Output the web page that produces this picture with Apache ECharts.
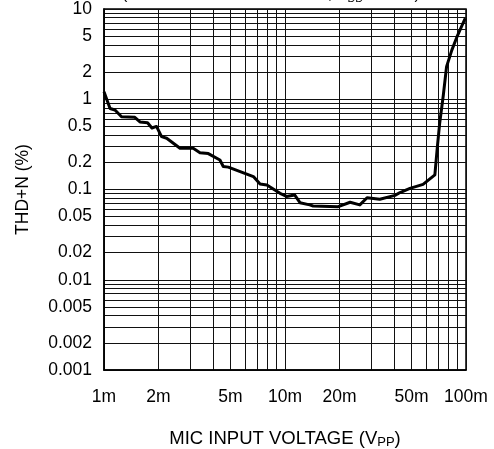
<!DOCTYPE html>
<html>
<head>
<meta charset="utf-8">
<script src="https://cdn.jsdelivr.net/npm/echarts@6/dist/echarts.min.js"></script>
<style>
html,body{margin:0;padding:0;background:#fff;}
#chart{width:494px;height:449px;}
</style>
</head>
<body>
<div id="chart"></div>
<script>
// Curve (x in volts peak-to-peak, y in %)
const micInputV = [0.001, 0.00108, 0.00115, 0.00125, 0.00148, 0.00158, 0.00174, 0.00184, 0.00195, 0.00208, 0.00222, 0.00263, 0.00311, 0.00339, 0.00377, 0.00437, 0.00456, 0.00486, 0.00669, 0.00728, 0.00794, 0.00939, 0.0102, 0.0113, 0.0121, 0.0137, 0.0143, 0.0197, 0.0229, 0.0259, 0.0284, 0.0334, 0.0405, 0.0432, 0.049, 0.0579, 0.0673, 0.0695, 0.0716, 0.0749, 0.0781, 0.0835, 0.0891, 0.099];
const thdN = [1.21, 0.79, 0.76, 0.64, 0.63, 0.56, 0.55, 0.48, 0.5, 0.385, 0.37, 0.286, 0.286, 0.256, 0.25, 0.212, 0.18, 0.177, 0.139, 0.115, 0.112, 0.0907, 0.0838, 0.087, 0.0714, 0.0675, 0.0657, 0.0645, 0.0722, 0.0675, 0.081, 0.078, 0.086, 0.0926, 0.103, 0.114, 0.145, 0.3, 0.55, 1.1, 2.3, 3.5, 4.9, 7.9];

// Tick labels
const xLabelValues = [0.001, 0.002, 0.005, 0.01, 0.02, 0.05, 0.1];
const xLabelText = ['1m', '2m', '5m', '10m', '20m', '50m', '100m'];
const yLabelValues = [0.001, 0.002, 0.005, 0.01, 0.02, 0.05, 0.1, 0.2, 0.5, 1, 2, 5, 10];
const yLabelText = ['0.001', '0.002', '0.005', '0.01', '0.02', '0.05', '0.1', '0.2', '0.5', '1', '2', '5', '10'];
// Grid lines at 1..9 x each decade
const mantissas = [1, 2, 3, 4, 5, 6, 7, 8, 9];
const xDecades = [0.001, 0.01];
const yDecades = [0.001, 0.01, 0.1, 1];

function gridValues(decades, last) {
  const out = [];
  decades.forEach(d => mantissas.forEach(m => out.push(+(d * m).toPrecision(6))));
  out.push(last);
  return out;
}
const xGrid = gridValues(xDecades, 0.1);
const yGrid = gridValues(yDecades, 10);

function lookup(vals, texts, v) {
  for (let i = 0; i < vals.length; i++) {
    if (Math.abs(Math.log10(vals[i]) - Math.log10(v)) < 1e-6) return texts[i];
  }
  return '';
}

const chart = echarts.init(document.getElementById('chart'), null, {renderer: 'canvas'});
const font = 'Arial, "Liberation Sans", Helvetica, sans-serif';
chart.setOption({
  animation: false,
  backgroundColor: '#fff',
  textStyle: {fontFamily: font},
  graphic: [{
    type: 'text',
    left: 122,
    top: -13,
    style: {
      text: '(MIC PREAMP GAIN = 20dB, V{sub|DD} = 3.3V)',
      font: '16px ' + font,
      fill: '#000',
      rich: {sub: {fontSize: 11, fontFamily: font, padding: [7, 0, 0, 0]}}
    }
  }],
  grid: {left: 104, right: 28, top: 9, bottom: 79, show: true, borderColor: '#000', borderWidth: 1.5, containLabel: false, outerBoundsMode: 'none'},
  xAxis: {
    type: 'log', logBase: 10, min: 0.001, max: 0.1,
    name: 'MIC INPUT VOLTAGE (V{sub|PP})',
    nameLocation: 'middle', nameGap: 58,
    nameTextStyle: {color: '#000', fontSize: 18.5, fontFamily: font,
      rich: {sub: {fontSize: 13, fontFamily: font, padding: [8, 0, 0, 0]}}},
    axisLine: {show: true, lineStyle: {color: '#000', width: 1.5}},
    axisTick: {show: false, customValues: xGrid},
    splitLine: {show: true, lineStyle: {color: '#111', width: 1}},
    axisLabel: {customValues: xLabelValues, color: '#000', fontSize: 17.5, margin: 18, fontFamily: font,
      formatter: v => lookup(xLabelValues, xLabelText, v)}
  },
  yAxis: {
    type: 'log', logBase: 10, min: 0.001, max: 10,
    name: 'THD+N (%)',
    nameLocation: 'middle', nameGap: 72, nameRotate: 90,
    nameTextStyle: {color: '#000', fontSize: 17.5, fontFamily: font},
    axisLine: {show: true, lineStyle: {color: '#000', width: 1.5}},
    axisTick: {show: false, customValues: yGrid},
    splitLine: {show: true, lineStyle: {color: '#111', width: 1}},
    axisLabel: {customValues: yLabelValues, color: '#000', fontSize: 17.5, margin: 12, fontFamily: font,
      formatter: v => lookup(yLabelValues, yLabelText, v)}
  },
  series: [{
    type: 'line',
    data: micInputV.map((x, i) => [x, thdN[i]]),
    showSymbol: false,
    symbol: 'none',
    lineStyle: {color: '#000', width: 3, join: 'round'},
    clip: true,
    z: 5
  }]
});
</script>
</body>
</html>
